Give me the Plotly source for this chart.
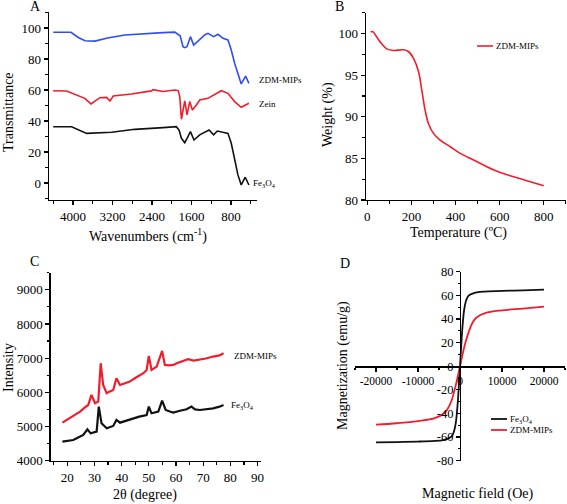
import plotly.graph_objects as go

# ---------------- Panel A: FTIR ----------------
ftir_blue_x = [4400, 4040, 3900, 3758, 3555, 3300, 2950, 2600, 2176, 1939, 1830, 1772, 1737, 1691, 1622,
               1556, 1434, 1333, 1266, 1152, 1064, 963, 862, 795, 727, 660, 593, 505, 438]
ftir_blue_y = [97.2, 97.2, 94.0, 91.8, 91.5, 93.5, 95.5, 96.3, 97.0, 97.3, 95.0, 87.9, 87.3, 87.9, 94.4,
               89.0, 92.3, 95.5, 96.5, 94.4, 95.9, 93.3, 92.3, 85.8, 77.2, 70.8, 63.9, 69.0, 64.3]

ftir_red_x = [4400, 4130, 3760, 3636, 3455, 3320, 3250, 3185, 2815, 2410, 2380, 2175, 1939, 1870, 1838,
              1804, 1737, 1690, 1636, 1582, 1501, 1434, 1266, 1131, 997, 862, 727, 593, 492, 438]
ftir_red_y = [59.5, 59.3, 54.6, 51.0, 55.0, 55.2, 52.9, 56.1, 57.4, 59.4, 60.2, 59.0, 60.0, 59.6, 55.7,
              41.1, 52.9, 43.9, 52.5, 47.1, 50.3, 53.5, 54.6, 56.8, 59.5, 57.8, 52.5, 48.8, 50.3, 51.4]

ftir_black_x = [4400, 4027, 3723, 3218, 2747, 2400, 2175, 1906, 1850, 1804, 1737, 1690, 1622, 1549, 1434,
                1245, 1152, 1077, 963, 862, 795, 727, 660, 593, 512, 438]
ftir_black_y = [36.3, 36.3, 32.0, 32.7, 34.6, 35.5, 35.7, 36.3, 34.0, 28.8, 26.0, 28.8, 33.1, 27.7, 31.0,
                34.2, 31.0, 33.5, 32.5, 32.0, 25.6, 14.8, 5.2, -1.3, 3.7, -1.3]

ftir_ticks = [4000, 3200, 2400, 1600, 800]

# ---------------- Panel B: TGA ----------------
tga_temp = [15, 24, 42, 65, 88, 118, 164, 186, 209, 232, 247, 262, 277, 300, 330, 376, 421, 482, 542,
            603, 664, 739, 800]
tga_weight = [100.16, 100.24, 99.6, 98.76, 98.16, 97.96, 98.04, 97.84, 97.03, 95.43, 93.2, 90.8, 89.2,
              88.0, 87.2, 86.4, 85.6, 84.8, 84.0, 83.3, 82.8, 82.2, 81.7]

# ---------------- Panel C: XRD ----------------
xrd_red_x = [18.2, 19.5, 21.0, 22.5, 24.7, 26.5, 27.7, 28.9, 30.2, 31.4, 32.3, 33.2, 34.5, 35.5, 36.9,
             38.1, 39.4, 41.0, 43.0, 45.0, 46.7, 48.0, 49.2, 50.0, 51.0, 52.9, 54.9, 55.9, 57.5, 59.0,
             60.5, 62.0, 64.5, 66.5, 68.8, 71.0, 73.7, 76.0, 77.5]
xrd_red_y = [5113, 5180, 5240, 5330, 5436, 5560, 5630, 5924, 5680, 5728, 6852, 6217, 5973, 6020, 6070,
             6412, 6217, 6260, 6314, 6420, 6510, 6560, 6656, 7066, 6656, 6754, 7213, 6803, 6790, 6803,
             6860, 6900, 6969, 6930, 6950, 6990, 7047, 7080, 7145]

xrd_black_x = [18.2, 20.0, 22.2, 24.0, 25.9, 27.4, 28.6, 30.8, 31.6, 32.6, 34.5, 36.9, 38.1, 39.4, 41.5,
               44.3, 46.5, 49.2, 50.0, 51.0, 53.5, 54.9, 56.2, 58.0, 59.0, 61.5, 63.9, 65.7, 67.0, 68.8,
               71.0, 73.7, 76.0, 77.5]
xrd_black_y = [4557, 4570, 4605, 4680, 4752, 4918, 4800, 4850, 5582, 5094, 4947, 5016, 5191, 5113, 5170,
               5240, 5290, 5338, 5582, 5387, 5436, 5758, 5484, 5430, 5406, 5460, 5504, 5582, 5500, 5484,
               5500, 5533, 5580, 5631]

# ---------------- Panel D: VSM ----------------
vsm_field = [-20000, -15000, -10000, -6000, -4000, -3000, -2000, -1500, -1000, -700, -400, -200, 0,
             200, 400, 700, 1000, 1500, 2000, 3000, 4000, 6000, 10000, 15000, 20000]
vsm_fe3o4 = [-64.5, -64.2, -63.8, -63.2, -62.5, -61.5, -59.5, -56.0, -48.0, -38.0, -24.0, -12.0, 0,
             12.0, 24.0, 38.0, 48.0, 56.0, 59.5, 61.5, 62.5, 63.2, 63.8, 64.2, 64.8]
vsm_mips = [-49.5, -48.3, -46.5, -44.0, -40.5, -36.5, -29.0, -23.0, -16.0, -11.5, -6.5, -3.2, 0,
            3.2, 6.5, 11.5, 16.0, 22.5, 28.2, 37.0, 41.5, 45.0, 47.3, 48.8, 50.5]

vsm_xticks = [-20000, -10000, 0, 10000, 20000]
vsm_xticklabels = ["-20000", "-10000", "0", "10000", "20000"]
vsm_yticks = [-80, -60, -40, -20, 0, 20, 40, 60, 80]
vsm_yticklabels = ["-80", "-60", "-40", "-20", "0", "20", "40", "60", "80"]

FONT = "Liberation Serif, Times New Roman, serif"
BLUE = "#2f4df2"
RED = "#f21c2c"
BLACK = "#111111"

W, H = 567, 504


def px(x):
    return x / W


def py(y):
    return 1 - y / H


fig = go.Figure()

fig.add_trace(go.Scatter(x=ftir_blue_x, y=ftir_blue_y, mode="lines", line=dict(color=BLUE, width=1.6),
                         xaxis="x", yaxis="y", showlegend=False))
fig.add_trace(go.Scatter(x=ftir_red_x, y=ftir_red_y, mode="lines", line=dict(color=RED, width=1.6),
                         xaxis="x", yaxis="y", showlegend=False))
fig.add_trace(go.Scatter(x=ftir_black_x, y=ftir_black_y, mode="lines", line=dict(color=BLACK, width=1.6),
                         xaxis="x", yaxis="y", showlegend=False))

fig.add_trace(go.Scatter(x=tga_temp, y=tga_weight, mode="lines", line=dict(color=RED, width=1.6, shape="spline"),
                         xaxis="x2", yaxis="y2", showlegend=False))

fig.add_trace(go.Scatter(x=xrd_red_x, y=xrd_red_y, mode="lines", line=dict(color=RED, width=2.2),
                         xaxis="x3", yaxis="y3", showlegend=False))
fig.add_trace(go.Scatter(x=xrd_black_x, y=xrd_black_y, mode="lines", line=dict(color=BLACK, width=2.2),
                         xaxis="x3", yaxis="y3", showlegend=False))

fig.add_trace(go.Scatter(x=vsm_field, y=vsm_fe3o4, mode="lines", line=dict(color=BLACK, width=1.8, shape="spline"),
                         xaxis="x4", yaxis="y4", showlegend=False))
fig.add_trace(go.Scatter(x=vsm_field, y=vsm_mips, mode="lines", line=dict(color=RED, width=1.8, shape="spline"),
                         xaxis="x4", yaxis="y4", showlegend=False))

tickfont = dict(family=FONT, size=13, color="black")
common = dict(showgrid=False, zeroline=False, showline=True, linecolor="black", linewidth=1.3,
              ticks="outside", ticklen=4, tickwidth=1.2, tickcolor="black", tickangle=0, automargin=False)

fig.update_layout(
    width=W, height=H, margin=dict(l=0, r=0, t=0, b=0, pad=0, autoexpand=False),
    paper_bgcolor="white", plot_bgcolor="white",
    font=dict(family=FONT, color="black"),
    hovermode=False,
    xaxis=dict(domain=[px(49), px(257)], range=[4485, 274], anchor="y", tickvals=ftir_ticks,
               minor=dict(ticks="outside", ticklen=2.5, dtick=400, tick0=0, tickcolor="black"),
               tickfont=tickfont, **common),
    yaxis=dict(domain=[py(200), py(11.7)], range=[-11, 110.5], anchor="x", dtick=20,
               minor=dict(ticks="outside", ticklen=2.5, dtick=10, tickcolor="black"),
               tickfont=tickfont, **common),
    xaxis2=dict(domain=[px(366), px(566)], range=[-6, 901], anchor="y2", dtick=200,
                minor=dict(ticks="outside", ticklen=2.5, dtick=100, tickcolor="black"),
                tickfont=tickfont, **common),
    yaxis2=dict(domain=[py(200), py(12.7)], range=[80, 102.5], anchor="x2", dtick=5,
                minor=dict(ticks="outside", ticklen=2.5, dtick=2.5, tickcolor="black"),
                tickfont=tickfont, **common),
    xaxis3=dict(domain=[px(50.7), px(260.5)], range=[13.9, 91.1], anchor="y3", dtick=10, tick0=0,
                minor=dict(ticks="outside", ticklen=2.5, dtick=5, tickcolor="black"),
                tickfont=tickfont, **common),
    yaxis3=dict(domain=[py(460.7), py(272.7)], range=[4000, 9500], anchor="x3", dtick=1000,
                minor=dict(ticks="outside", ticklen=2.5, dtick=500, tickcolor="black"),
                tickfont=tickfont, **common),
    xaxis4=dict(domain=[px(355), px(565)], range=[-25000, 25000], anchor="free",
                position=(py(460.7) + py(271.7)) / 2,
                tickvals=vsm_xticks, ticktext=vsm_xticklabels,
                minor=dict(ticks="outside", ticklen=2.5, dtick=5000, tick0=0, tickcolor="black"),
                tickfont=dict(family=FONT, size=11.5, color="black"), **common),
    yaxis4=dict(domain=[py(460.7), py(271.7)], range=[-80, 80], anchor="free", position=px(460),
                tickvals=vsm_yticks, ticktext=vsm_yticklabels,
                minor=dict(ticks="outside", ticklen=2.5, dtick=10, tickcolor="black"),
                tickfont=dict(family=FONT, size=12.5, color="black"), **common),
)

annotations = []


def ann(text, x, y, size, xanchor="center", yanchor="middle", angle=0):
    annotations.append(dict(text=text, x=px(x), y=py(y), xref="paper", yref="paper", showarrow=False,
                            xanchor=xanchor, yanchor=yanchor, textangle=angle,
                            font=dict(family=FONT, size=size, color="black")))


# panel letters
ann("A", 35, 7, 14)
ann("B", 339, 7, 14)
ann("C", 34, 261, 14)
ann("D", 345, 263, 14)

# axis titles
ann("Transmittance", 8, 112, 14, angle=-90)
ann("Wavenumbers (cm<sup>-1</sup>)", 148, 235, 14)
ann("Weight (%)", 328, 115, 14, angle=-90)
ann("Temperature (ºC)", 458, 233, 14)
ann("Intensity", 8, 368, 14, angle=-90)
ann("2θ (degree)", 145, 495, 14)
ann("Magnetization (emu/g)", 343, 366, 14, angle=-90)
ann("Magnetic field (Oe)", 478, 494, 14)

# series labels
ann("ZDM-MIPs", 257, 80, 9, xanchor="left")
ann("Zein", 257, 104, 9, xanchor="left")
ann("Fe<sub>3</sub>O<sub>4</sub>", 251, 183, 9, xanchor="left")
ann("ZDM-MIPs", 232, 356, 9, xanchor="left")
ann("Fe<sub>3</sub>O<sub>4</sub>", 229, 405, 9, xanchor="left")

# legends
ann("ZDM-MIPs", 494, 46, 9, xanchor="left")
ann("Fe<sub>3</sub>O<sub>4</sub>", 508, 419, 9, xanchor="left")
ann("ZDM-MIPs", 508, 430, 9, xanchor="left")

shapes = [
    dict(type="line", xref="paper", yref="paper", x0=px(477), x1=px(493), y0=py(46), y1=py(46),
         line=dict(color=RED, width=1.6)),
    dict(type="line", xref="paper", yref="paper", x0=px(491), x1=px(507), y0=py(419), y1=py(419),
         line=dict(color=BLACK, width=1.8)),
    dict(type="line", xref="paper", yref="paper", x0=px(491), x1=px(507), y0=py(430), y1=py(430),
         line=dict(color=RED, width=1.8)),
]

fig.update_layout(annotations=annotations, shapes=shapes)

fig.write_html(
    "out.html",
    config={"displayModeBar": False, "staticPlot": True},
    post_script="document.documentElement.style.margin='0';document.body.style.margin='0';"
                "document.body.style.padding='0';document.body.style.overflow='hidden';",
)
